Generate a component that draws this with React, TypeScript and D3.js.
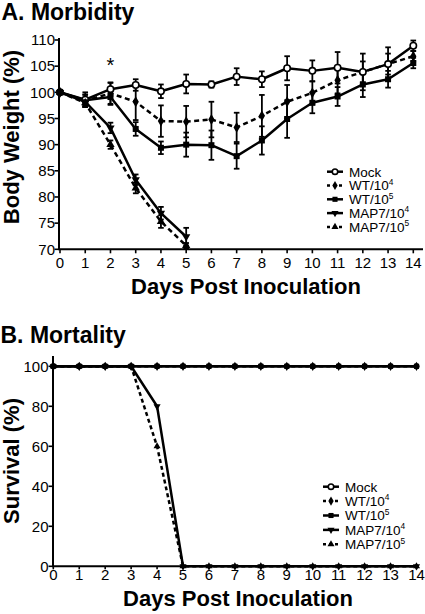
import React from "react";
import * as d3 from "d3";

const days = [0, 1, 2, 3, 4, 5, 6, 7, 8, 9, 10, 11, 12, 13, 14];
const weightTicks = [70, 75, 80, 85, 90, 95, 100, 105, 110];
const survivalTicks = [0, 20, 40, 60, 80, 100];

const mockWeight = [100, 98.6, 100.6, 101.4, 100.2, 101.6, 101.5, 103.0, 102.5, 104.6, 104.1, 104.7, 103.9, 105.4, 108.9];
const mockErr = [0, 1.4, 1.3, 1.1, 1.3, 1.8, 0.6, 1.6, 1.5, 2.3, 2.0, 3.0, 3.5, 3.2, 1.0];
const wt4Weight = [100, 98.4, 99.8, 98.2, 94.5, 94.4, 94.8, 93.3, 95.5, 98.2, 99.9, 102.3, 103.9, 105.4, 106.9];
const wt4Err = [0, 1.2, 2.0, 3.5, 3.0, 3.0, 3.4, 2.8, 4.0, 3.2, 2.2, 2.5, 2.0, 2.0, 1.0];
const wt5Weight = [100, 98.5, 99.1, 93.0, 89.4, 90.0, 89.9, 87.8, 90.8, 94.9, 98.0, 99.2, 101.5, 102.5, 105.6];
const wt5Err = [0, 1.0, 1.5, 1.3, 1.2, 2.3, 2.8, 2.4, 2.7, 3.6, 2.0, 1.8, 2.4, 1.6, 1.0];
const map4Weight = [100, 98.2, 93.2, 83.3, 76.9, 72.4];
const map4Err = [0, 0.8, 1.0, 1.0, 1.2, 1.7];
const map5Weight = [100, 98.0, 90.0, 81.7, 75.3, 70.7];
const map5Err = [0, 0.8, 0.8, 1.0, 1.2, 0.5];

const mockSurv = [100, 100, 100, 100, 100, 100, 100, 100, 100, 100, 100, 100, 100, 100, 100];
const wt4Surv = [100, 100, 100, 100, 100, 100, 100, 100, 100, 100, 100, 100, 100, 100, 100];
const wt5Surv = [100, 100, 100, 100, 100, 100, 100, 100, 100, 100, 100, 100, 100, 100, 100];
const map4Surv = [100, 100, 100, 100, 80, 0, 0, 0, 0, 0, 0, 0, 0, 0, 0];
const map5Surv = [100, 100, 100, 100, 60, 0, 0, 0, 0, 0, 0, 0, 0, 0, 0];

const seriesNames = ["Mock", "WT/10", "WT/10", "MAP7/10", "MAP7/10"];
const seriesSup = ["", "4", "5", "4", "5"];
const seriesDashed = [false, true, false, false, true];
const seriesSymbols = ["circle", "diamond", "square", "down", "up"];

const FONT = "'Liberation Sans', Arial, Helvetica, sans-serif";

function Marker({ kind, x, y, scale = 1 }: { kind: string; x: number; y: number; scale?: number }) {
  let path = "";
  let rot = 0;
  if (kind === "circle") {
    return <circle cx={x} cy={y} r={3.2 * scale} fill="#fff" stroke="#000" strokeWidth={1.6} />;
  }
  if (kind === "filled") {
    return <circle cx={x} cy={y} r={3.6 * scale} fill="#000" />;
  }
  if (kind === "diamond") path = d3.symbol(d3.symbolDiamond, 34 * scale * scale)() as string;
  if (kind === "square") path = d3.symbol(d3.symbolSquare, 36 * scale * scale)() as string;
  if (kind === "up") path = d3.symbol(d3.symbolTriangle, 30 * scale * scale)() as string;
  if (kind === "down") {
    path = d3.symbol(d3.symbolTriangle, 30 * scale * scale)() as string;
    rot = 180;
  }
  return <path d={path} transform={`translate(${x},${y}) rotate(${rot})`} fill="#000" />;
}

function Legend({ x, y0, dy, fs }: { x: number; y0: number; dy: number; fs: number }) {
  return (
    <g>
      {seriesNames.map((n, i) => {
        const cy = y0 + i * dy;
        return (
          <g key={i}>
            <line x1={x} x2={x + 16} y1={cy} y2={cy} stroke="#000" strokeWidth={2.5}
              strokeDasharray={seriesDashed[i] ? "3,3" : undefined} />
            <Marker kind={seriesSymbols[i]} x={x + 8} y={cy} scale={0.85} />
            <text x={x + 22} y={cy + 4.8} fontSize={fs} fontFamily={FONT}>
              {n}
              {seriesSup[i] && (
                <tspan fontSize={fs * 0.62} dy={-5.5}>{seriesSup[i]}</tspan>
              )}
            </text>
          </g>
        );
      })}
    </g>
  );
}

export default function App() {
  // Panel A
  const xA = d3.scaleLinear().domain([0, 14]).range([60, 413.3]);
  const yA = d3.scaleLinear().domain([70, 110]).range([249.3, 40]);
  // Panel B
  const xB = d3.scaleLinear().domain([0, 14]).range([53.3, 416.5]);
  const yB = d3.scaleLinear().domain([0, 100]).range([566.3, 366.3]);

  const weights = [mockWeight, wt4Weight, wt5Weight, map4Weight, map5Weight];
  const errs = [mockErr, wt4Err, wt5Err, map4Err, map5Err];
  const survs = [mockSurv, wt4Surv, wt5Surv, map4Surv, map5Surv];

  const lineA = d3.line<number>().x((_, i) => xA(days[i])).y((d) => yA(d));
  const lineB = d3.line<number>().x((_, i) => xB(days[i])).y((d) => yB(d));

  const drawOrderA = [2, 1, 0, 4, 3];

  return (
    <svg width={425} height={614} style={{ position: "absolute", left: 0, top: 0, background: "#fff" }}>
      {/* Panel A */}
      <text x={1.5} y={19.5} fontSize={23} fontWeight="bold" fontFamily={FONT}>A. Morbidity</text>
      <text x={xA(2)} y={72} fontSize={20} textAnchor="middle" fontFamily={FONT}>*</text>

      {/* axes A */}
      <line x1={59} x2={59} y1={38} y2={yA(70)} stroke="#000" strokeWidth={2} />
      <line x1={58} x2={423} y1={yA(70)} y2={yA(70)} stroke="#000" strokeWidth={2} />
      {weightTicks.map((t) => (
        <g key={t}>
          <line x1={54.5} x2={59} y1={yA(t)} y2={yA(t)} stroke="#000" strokeWidth={1.6} />
          <text x={55} y={yA(t) + 5.3} fontSize={15} textAnchor="end" fontFamily={FONT}>{t}</text>
        </g>
      ))}
      {days.map((d) => (
        <g key={d}>
          <line x1={xA(d)} x2={xA(d)} y1={yA(70)} y2={yA(70) + 4} stroke="#000" strokeWidth={1.6} />
          <text x={xA(d)} y={267.5} fontSize={15} textAnchor="middle" fontFamily={FONT}>{d}</text>
        </g>
      ))}
      <text transform={`translate(19,137) rotate(-90)`} fontSize={22} fontWeight="bold" textAnchor="middle" fontFamily={FONT}>Body Weight (%)</text>
      <text x={246} y={294} fontSize={22} fontWeight="bold" textAnchor="middle" fontFamily={FONT}>Days Post Inoculation</text>

      {/* error bars A */}
      {drawOrderA.map((s) => (
        <g key={"e" + s}>
          {weights[s].map((v, i) =>
            errs[s][i] > 0 ? (
              <g key={i}>
                <line x1={xA(days[i])} x2={xA(days[i])} y1={yA(v - errs[s][i])} y2={yA(v + errs[s][i])} stroke="#000" strokeWidth={1.8} />
                <line x1={xA(days[i]) - 2.8} x2={xA(days[i]) + 2.8} y1={yA(v - errs[s][i])} y2={yA(v - errs[s][i])} stroke="#000" strokeWidth={1.8} />
                <line x1={xA(days[i]) - 2.8} x2={xA(days[i]) + 2.8} y1={yA(v + errs[s][i])} y2={yA(v + errs[s][i])} stroke="#000" strokeWidth={1.8} />
              </g>
            ) : null
          )}
        </g>
      ))}
      {/* lines A */}
      {drawOrderA.map((s) => (
        <path key={"l" + s} d={lineA(weights[s]) as string} fill="none" stroke="#000" strokeWidth={2.5}
          strokeDasharray={seriesDashed[s] ? "5,3.5" : undefined} strokeLinejoin="round" />
      ))}
      {drawOrderA.map((s) => (
        <g key={"m" + s}>
          {weights[s].map((v, i) => (
            <Marker key={i} kind={seriesSymbols[s]} x={xA(days[i])} y={yA(v)} />
          ))}
        </g>
      ))}
      <Legend x={327} y0={171.7} dy={13.8} fs={13.5} />

      {/* Panel B */}
      <text x={0.5} y={343} fontSize={23} fontWeight="bold" fontFamily={FONT}>B. Mortality</text>
      <line x1={53} x2={53} y1={356} y2={yB(0)} stroke="#000" strokeWidth={2} />
      <line x1={52} x2={417} y1={yB(0)} y2={yB(0)} stroke="#000" strokeWidth={2} />
      {survivalTicks.map((t) => (
        <g key={t}>
          <line x1={48.5} x2={53} y1={yB(t)} y2={yB(t)} stroke="#000" strokeWidth={1.6} />
          <text x={48.5} y={yB(t) + 5.3} fontSize={15} textAnchor="end" fontFamily={FONT}>{t}</text>
        </g>
      ))}
      {days.map((d) => (
        <g key={d}>
          <line x1={xB(d)} x2={xB(d)} y1={yB(0)} y2={yB(0) + 3} stroke="#000" strokeWidth={1.6} />
          <text x={xB(d)} y={579.5} fontSize={15} textAnchor="middle" fontFamily={FONT}>{d}</text>
        </g>
      ))}
      <text transform={`translate(18.5,461) rotate(-90)`} fontSize={22} fontWeight="bold" textAnchor="middle" fontFamily={FONT}>Survival (%)</text>
      <text x={238} y={606} fontSize={22} fontWeight="bold" textAnchor="middle" fontFamily={FONT}>Days Post Inoculation</text>

      {drawOrderA.map((s) => (
        <path key={"lb" + s} d={lineB(survs[s]) as string} fill="none" stroke="#000" strokeWidth={2.5}
          strokeDasharray={seriesDashed[s] ? "4,3" : undefined} strokeLinejoin="round" />
      ))}
      {[0, 1, 2, 4, 3].map((s) => (
        <g key={"mb" + s}>
          {survs[s].map((v, i) => (
            <Marker key={i} kind={s === 0 ? "filled" : seriesSymbols[s]} x={xB(days[i])} y={yB(v)} scale={0.85} />
          ))}
        </g>
      ))}
      <Legend x={323} y0={486.7} dy={14.4} fs={13.5} />
    </svg>
  );
}
